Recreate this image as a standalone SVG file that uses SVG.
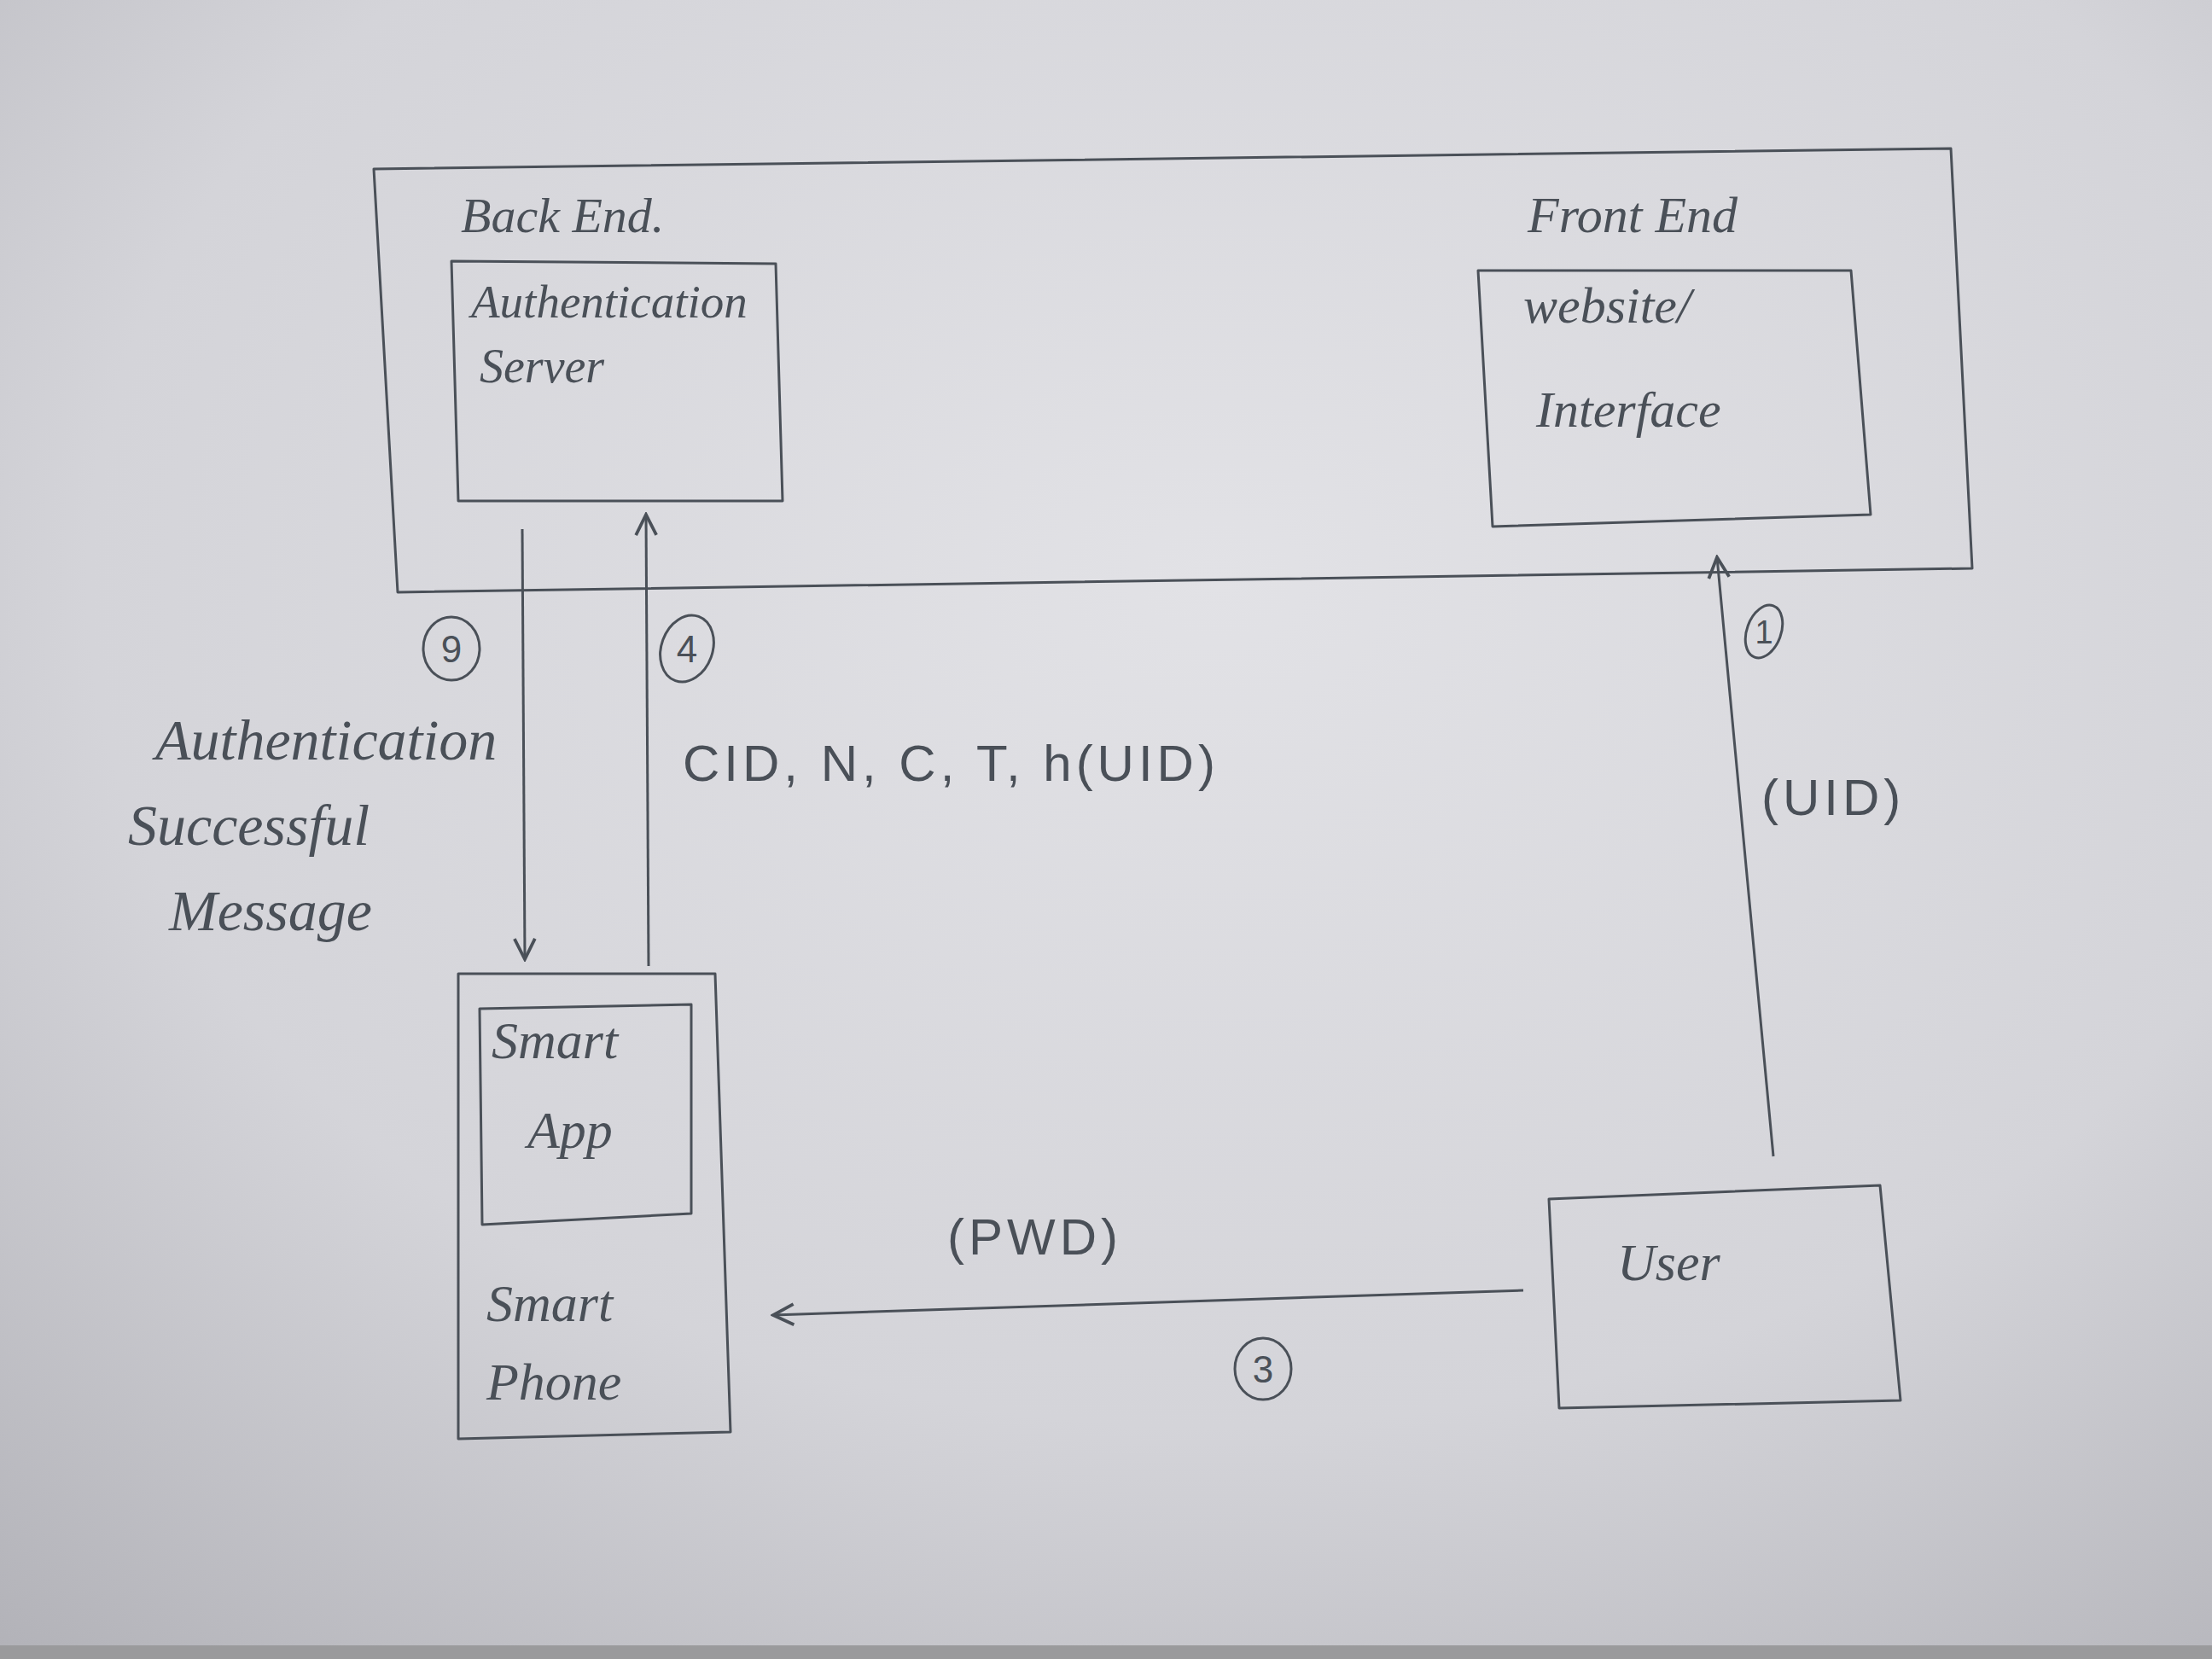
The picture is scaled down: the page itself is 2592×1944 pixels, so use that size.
<svg xmlns="http://www.w3.org/2000/svg" width="2592" height="1944" viewBox="0 0 2592 1944">
<defs>
<radialGradient id="bg" cx="0.55" cy="0.35" r="0.85">
<stop offset="0" stop-color="#e2e2e6"/>
<stop offset="0.6" stop-color="#d4d4d9"/>
<stop offset="1" stop-color="#b2b2b8"/>
</radialGradient>
<marker id="ah" viewBox="0 0 20 20" refX="18" refY="10" markerWidth="30" markerHeight="30" markerUnits="userSpaceOnUse" orient="auto">
<path d="M2,2 L18,10 L2,18" fill="none" stroke="#4a5058" stroke-width="2.5"/>
</marker>
<style>
.ln{fill:none;stroke:#4a5058;stroke-width:3;stroke-linejoin:round}
.t{font-family:"Liberation Sans",sans-serif;fill:#4a5058;font-size:60px;letter-spacing:5px}
.c{font-family:"Liberation Serif",serif;font-style:italic;fill:#4a5058;font-size:62px}
.n{font-family:"Liberation Sans",sans-serif;fill:#4a5058;font-size:44px;text-anchor:middle}
</style>
</defs>
<rect width="2592" height="1944" fill="url(#bg)"/>
<rect y="1928" width="2592" height="16" fill="#9a9a9c"/>

<g id="system">
<polygon class="ln" points="438,198 2286,174 2311,666 466,694"/>
<text class="c" x="540" y="272" style="font-size:58px">Back End.</text>
<text class="c" x="1790" y="272" style="font-size:60px">Front End</text>
</g>

<g id="auth-server">
<polygon class="ln" points="529,306 909,309 917,587 537,587"/>
<text class="c" x="552" y="372" style="font-size:55px">Authentication</text>
<text class="c" x="562" y="448" style="font-size:56px">Server</text>
</g>

<g id="website">
<polygon class="ln" points="1732,317 2169,317 2192,603 1749,617"/>
<text class="c" x="1785" y="378" style="font-size:60px">website/</text>
<text class="c" x="1800" y="500" style="font-size:60px">Interface</text>
</g>

<g id="smart-phone">
<polygon class="ln" points="537,1141 838,1141 856,1678 537,1686"/>
<text class="c" x="570" y="1548">Smart</text>
<text class="c" x="570" y="1640">Phone</text>
</g>

<g id="smart-app">
<polygon class="ln" points="562,1182 810,1177 810,1422 565,1435"/>
<text class="c" x="576" y="1240">Smart</text>
<text class="c" x="618" y="1345">App</text>
</g>

<g id="user">
<polygon class="ln" points="1815,1405 2203,1389 2227,1641 1827,1650"/>
<text class="c" x="1895" y="1500">User</text>
</g>

<g id="connectors">
<line class="ln" x1="612" y1="620" x2="615" y2="1124" marker-end="url(#ah)"/>
<line class="ln" x1="760" y1="1132" x2="757" y2="603" marker-end="url(#ah)"/>
<line class="ln" x1="2078" y1="1355" x2="2012" y2="653" marker-end="url(#ah)"/>
<line class="ln" x1="1785" y1="1512" x2="906" y2="1541" marker-end="url(#ah)"/>
<ellipse class="ln" cx="529" cy="760" rx="33" ry="37"/>
<text class="n" x="529" y="776">9</text>
<ellipse class="ln" cx="805" cy="760" rx="30" ry="40" transform="rotate(20 805 760)"/>
<text class="n" x="805" y="776">4</text>
<ellipse class="ln" cx="2067" cy="740" rx="20" ry="32" transform="rotate(20 2067 740)"/>
<text class="n" x="2067" y="754" style="font-size:38px">1</text>
<ellipse class="ln" cx="1480" cy="1604" rx="33" ry="36"/>
<text class="n" x="1480" y="1620">3</text>
<text class="c" x="182" y="890" style="font-size:68px">Authentication</text>
<text class="c" x="150" y="990" style="font-size:68px">Successful</text>
<text class="c" x="198" y="1090" style="font-size:68px">Message</text>
<text class="t" x="800" y="915">CID, N, C, T, h(UID)</text>
<text class="t" x="2064" y="955">(UID)</text>
<text class="t" x="1110" y="1470">(PWD)</text>
</g>
</svg>
